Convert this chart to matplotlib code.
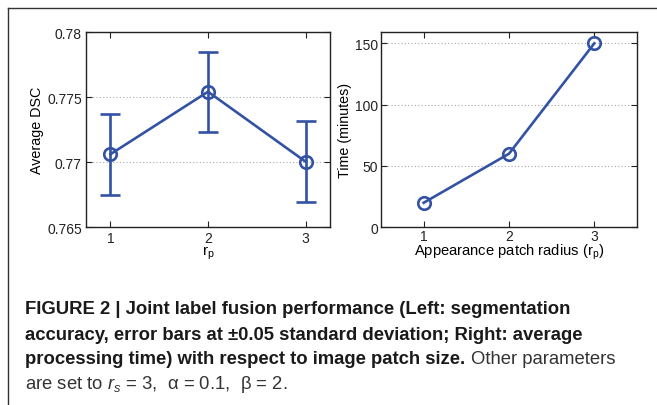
import matplotlib
matplotlib.use("Agg")
import matplotlib.pyplot as plt
from matplotlib.lines import Line2D

# Data
radius = [1, 2, 3]
dsc = [0.77062, 0.77543, 0.77005]
dsc_err = [0.00313, 0.00308, 0.00309]
time_min = [20, 60, 150]

dsc_ticks = [0.765, 0.77, 0.775, 0.78]
dsc_ticklabels = ["0.765", "0.77", "0.775", "0.78"]
time_ticks = [0, 50, 100, 150]

BLUE = "#3352a4"
W, H = 657, 406

plt.rcParams["font.family"] = ["Liberation Sans", "DejaVu Sans"]

fig = plt.figure(figsize=(W / 100, H / 100), dpi=100)


def px_axes(x0, y0, x1, y1):
    return fig.add_axes([x0 / W, 1 - y1 / H, (x1 - x0) / W, (y1 - y0) / H])


def style(ax):
    ax.tick_params(direction="in", length=4, width=0.8, labelsize=10,
                   top=True, right=True, colors="#222222", pad=3)
    for s in ax.spines.values():
        s.set_linewidth(1.0)
        s.set_color("#222222")
    ax.yaxis.grid(True, linestyle=(0, (1, 2)), color="#aaaaaa", linewidth=0.8)
    ax.set_axisbelow(True)


# Left panel: segmentation accuracy
ax1 = px_axes(86, 33.3, 330, 228.3)
style(ax1)
ax1.errorbar(radius, dsc, yerr=dsc_err, color=BLUE, linewidth=1.9,
             elinewidth=1.9, capsize=7, capthick=1.9,
             marker="o", markersize=9, markerfacecolor="none",
             markeredgewidth=1.9, markeredgecolor=BLUE)
ax1.set_xlim(0.75, 3.25)
ax1.set_ylim(0.765, 0.78)
ax1.set_xticks(radius)
ax1.set_xticklabels([str(r) for r in radius])
ax1.set_yticks(dsc_ticks)
ax1.set_yticklabels(dsc_ticklabels)
ax1.set_ylabel("Average DSC", fontsize=10.3, labelpad=2)
ax1.set_xlabel(r"r$_\mathregular{p}$", fontsize=11, labelpad=-1.5)

# Right panel: processing time
ax2 = px_axes(381, 33.3, 637, 228.3)
style(ax2)
ax2.plot(radius, time_min, color=BLUE, linewidth=1.9,
         marker="o", markersize=9, markerfacecolor="none",
         markeredgewidth=1.9, markeredgecolor=BLUE)
ax2.set_xlim(0.5, 3.5)
ax2.set_ylim(0, 159)
ax2.set_xticks(radius)
ax2.set_xticklabels([str(r) for r in radius])
ax2.tick_params(axis="x", pad=1)
ax2.tick_params(axis="y", pad=2)
ax2.set_yticks(time_ticks)
ax2.set_ylabel("Time (minutes)", fontsize=10.3, labelpad=2)
ax2.set_xlabel(r"Appearance patch radius (r$_\mathregular{p}$)", fontsize=10.6,
               labelpad=-1.2)

# Outer frame (top and left edges)
fig.add_artist(Line2D([8 / W, 1], [1 - 9 / H, 1 - 9 / H], transform=fig.transFigure,
                      color="#333333", linewidth=1.0))
fig.add_artist(Line2D([8 / W, 8 / W], [1 - 9 / H, 0], transform=fig.transFigure,
                      color="#333333", linewidth=1.0))

# Caption
cap_size = 13.3
x0 = 25 / W
lines_y = [310, 335, 360, 385]
kw = dict(fontsize=cap_size, va="center", ha="left", transform=fig.transFigure)
fig.text(x0, 1 - lines_y[0] / H,
         "FIGURE 2 | Joint label fusion performance (Left: segmentation",
         weight="bold", color="#1a1a1a", **kw)
fig.text(x0, 1 - lines_y[1] / H,
         "accuracy, error bars at \u00b10.05 standard deviation; Right: average",
         weight="bold", color="#1a1a1a", **kw)
t3 = fig.text(x0, 1 - lines_y[2] / H,
              "processing time) with respect to image patch size.",
              weight="bold", color="#1a1a1a", **kw)
fig.canvas.draw()
bb = t3.get_window_extent(renderer=fig.canvas.get_renderer())
fig.text(bb.x1 / W + 6 / W, 1 - lines_y[2] / H, "Other parameters",
         weight="normal", color="#333333", **kw)
plt.rcParams["mathtext.fontset"] = "custom"
plt.rcParams["mathtext.it"] = "Liberation Sans:italic"
plt.rcParams["mathtext.rm"] = "Liberation Sans"
fig.text(x0, 1 - lines_y[3] / H,
         "are set to $r_s$ = 3,  \u03b1 = 0.1,  \u03b2 = 2.",
         weight="normal", color="#333333", **kw)

fig.savefig("out.png", dpi=100)
